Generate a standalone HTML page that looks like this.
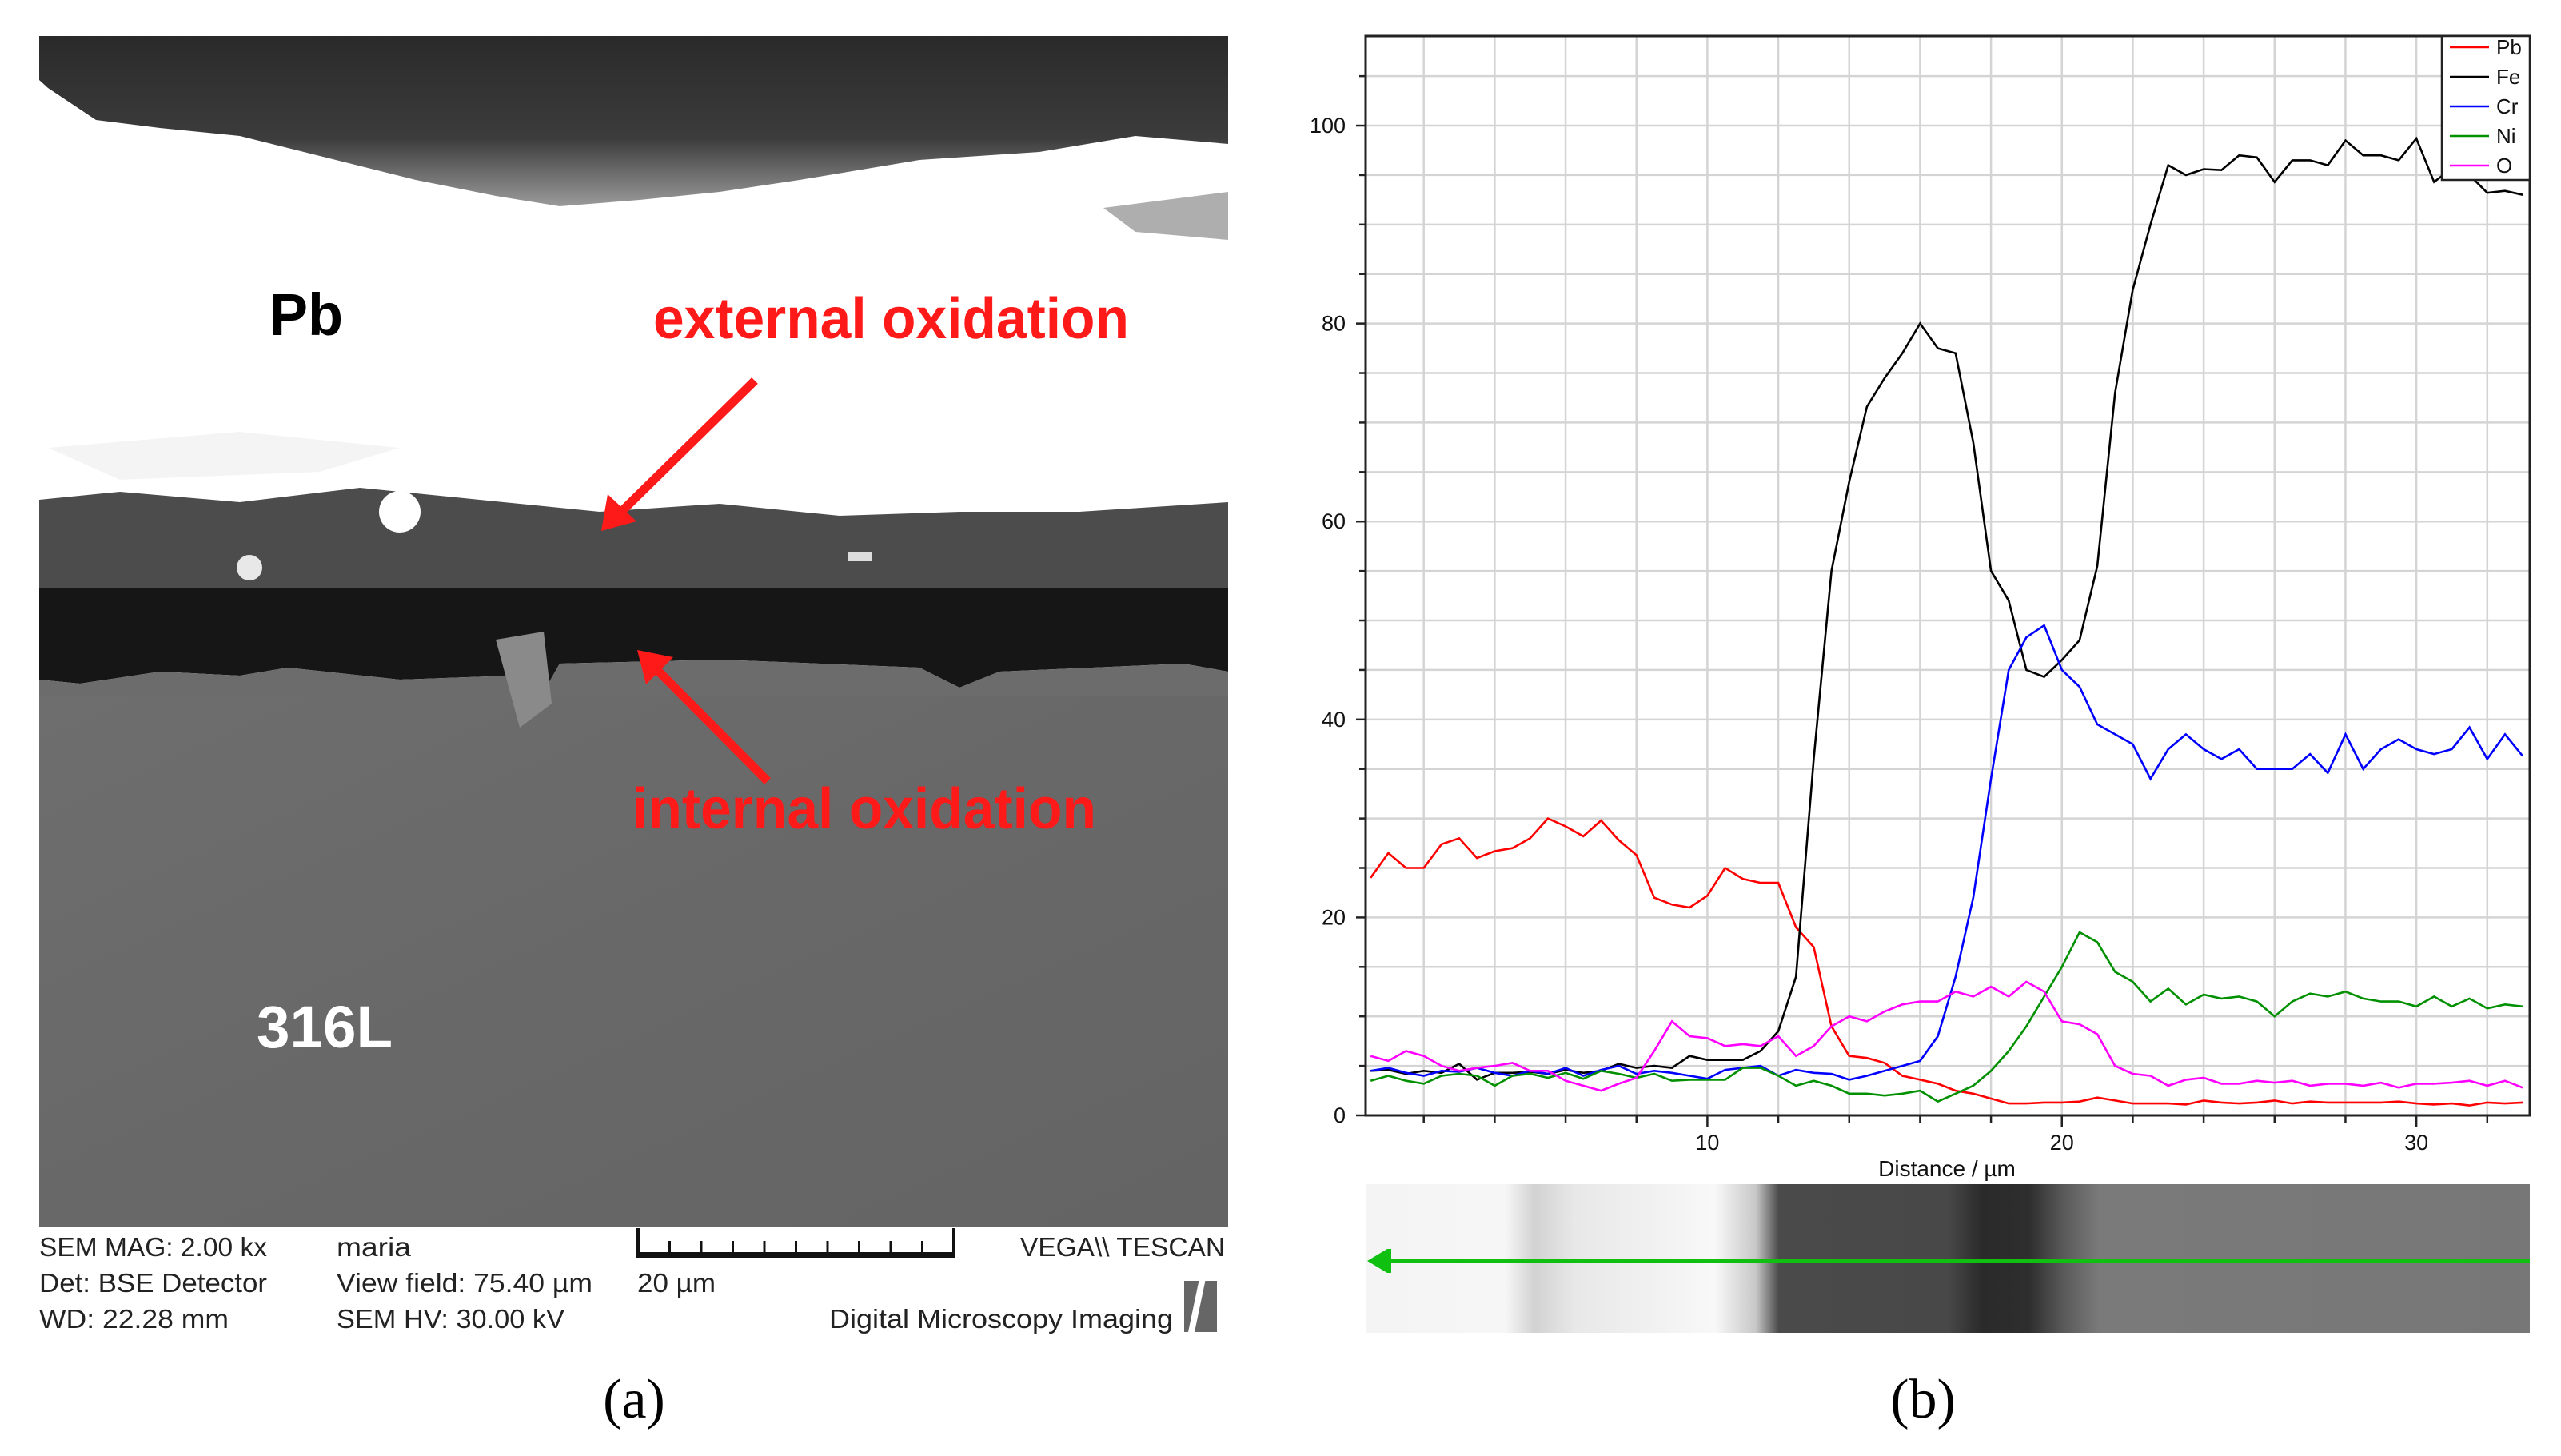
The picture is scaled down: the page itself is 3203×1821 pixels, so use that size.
<!DOCTYPE html>
<html><head><meta charset="utf-8">
<style>
html,body{margin:0;padding:0;background:#fff;}
svg{display:block;}
text{font-family:"Liberation Sans",sans-serif;}
text.serif{font-family:"Liberation Serif",serif;}
</style></head>
<body>
<svg id="fig" width="3203" height="1821" viewBox="0 0 3203 1821" xmlns="http://www.w3.org/2000/svg">
<defs>
<linearGradient id="stripG" x1="0" x2="1" y1="0" y2="0">
<stop offset="0" stop-color="#f4f4f4"/>
<stop offset="0.12" stop-color="#f6f6f6"/>
<stop offset="0.145" stop-color="#d2d2d2"/>
<stop offset="0.18" stop-color="#e8e8e8"/>
<stop offset="0.3" stop-color="#f8f8f8"/>
<stop offset="0.335" stop-color="#c8c8c8"/>
<stop offset="0.355" stop-color="#4a4a4a"/>
<stop offset="0.5" stop-color="#484848"/>
<stop offset="0.53" stop-color="#2a2a2a"/>
<stop offset="0.57" stop-color="#2e2e2e"/>
<stop offset="0.6" stop-color="#5a5a5a"/>
<stop offset="0.63" stop-color="#7a7a7a"/>
<stop offset="1" stop-color="#777"/>
</linearGradient>
<linearGradient id="steelG" x1="0" x2="1" y1="0" y2="1">
<stop offset="0" stop-color="#6e6e6e"/>
<stop offset="0.5" stop-color="#686868"/>
<stop offset="1" stop-color="#646464"/>
</linearGradient>
<linearGradient id="topG" x1="0" x2="0" y1="0" y2="1">
<stop offset="0" stop-color="#2a2a2a"/>
<stop offset="0.6" stop-color="#3c3c3c"/>
<stop offset="1" stop-color="#9a9a9a"/>
</linearGradient>
</defs>

<g>
<rect x="49" y="45" width="1487" height="1489" fill="#ffffff"/>
<path d="M49,45 L1536,45 L1536,180 L1420,170 L1300,190 L1150,200 L1000,225 L900,240 L800,250 L700,258 L620,245 L520,225 L420,200 L300,170 L200,160 L120,150 L60,110 L49,100 Z" fill="url(#topG)"/>
<path d="M1380,260 L1536,240 L1536,300 L1420,290 Z" fill="#9a9a9a" opacity="0.8"/>
<path d="M60,560 L300,540 L500,560 L400,590 L150,600 Z" fill="#e4e4e4" opacity="0.4"/>
<path d="M49,625 L150,615 L300,628 L450,610 L600,625 L750,640 L900,630 L1050,645 L1200,640 L1350,640 L1536,628 L1536,760 L49,760 Z" fill="#4c4c4c"/>
<circle cx="500" cy="640" r="26" fill="#ffffff"/>
<circle cx="312" cy="710" r="16" fill="#e8e8e8"/>
<rect x="1060" y="690" width="30" height="12" fill="#ddd"/>
<path d="M49,735 L1536,735 L1536,840 L1480,830 L1250,840 L1200,860 L1150,835 L900,825 L700,830 L660,900 L640,845 L500,850 L360,835 L300,845 L200,840 L100,855 L49,850 Z" fill="#161616"/>
<rect x="49" y="860" width="1487" height="674" fill="url(#steelG)"/>
<path d="M49,850 L100,855 L200,840 L300,845 L360,835 L500,850 L640,845 L660,900 L700,830 L900,825 L1150,835 L1200,860 L1250,840 L1480,830 L1536,840 L1536,870 L49,870 Z" fill="#6c6c6c"/>
<path d="M620,800 L680,790 L690,880 L650,910 Z" fill="#8a8a8a"/>
</g>
<text x="337" y="419" font-size="74" font-weight="bold" fill="#000" textLength="92" lengthAdjust="spacingAndGlyphs">Pb</text>
<text x="817" y="423" font-size="72" font-weight="bold" fill="#ff1a1a" textLength="595" lengthAdjust="spacingAndGlyphs">external oxidation</text>
<text x="791" y="1036" font-size="72" font-weight="bold" fill="#ff1a1a" textLength="580" lengthAdjust="spacingAndGlyphs">internal oxidation</text>
<text x="321" y="1310" font-size="74" font-weight="bold" fill="#fff" textLength="170" lengthAdjust="spacingAndGlyphs">316L</text>
<g stroke="#ff1a1a" fill="#ff1a1a">
<line x1="944" y1="476" x2="775" y2="642" stroke-width="11"/>
<polygon points="752,664 760,618 796,652" stroke="none"/>
</g>
<g stroke="#ff1a1a" fill="#ff1a1a">
<line x1="960" y1="977" x2="820" y2="836" stroke-width="11"/>
<polygon points="797,813 842,822 808,856" stroke="none"/>
</g>

<g font-size="33" fill="#222">
<text x="49" y="1571" textLength="285" lengthAdjust="spacingAndGlyphs">SEM MAG: 2.00 kx</text>
<text x="49" y="1616" textLength="285" lengthAdjust="spacingAndGlyphs">Det: BSE Detector</text>
<text x="49" y="1661" textLength="237" lengthAdjust="spacingAndGlyphs">WD: 22.28 mm</text>
<text x="421" y="1571" textLength="93" lengthAdjust="spacingAndGlyphs">maria</text>
<text x="421" y="1616" textLength="320" lengthAdjust="spacingAndGlyphs">View field: 75.40 µm</text>
<text x="421" y="1661" textLength="285" lengthAdjust="spacingAndGlyphs">SEM HV: 30.00 kV</text>
<text x="797" y="1616" textLength="98" lengthAdjust="spacingAndGlyphs">20 µm</text>
<text x="1532" y="1571" text-anchor="end" textLength="256" lengthAdjust="spacingAndGlyphs">VEGA\\ TESCAN</text>
<text x="1467" y="1661" text-anchor="end" textLength="430" lengthAdjust="spacingAndGlyphs">Digital Microscopy Imaging</text>
</g>
<g stroke="#111" fill="none">
<polyline points="798,1536 798,1571 1193,1571 1193,1536" stroke-width="4"/>
<line x1="798" y1="1569" x2="1193" y2="1569" stroke-width="6"/>
<g id="sbticks" stroke-width="3"></g>
</g>
<g>
<polygon points="1481,1602 1522,1602 1522,1666 1481,1666" fill="#666"/>
<polygon points="1504,1580 1512,1580 1494,1666 1486,1666" fill="#fff"/>
</g>
<text class="serif" style="font-family:'Liberation Serif',serif" x="793" y="1773" text-anchor="middle" font-size="70" fill="#000">(a)</text>
<text class="serif" style="font-family:'Liberation Serif',serif" x="2405" y="1773" text-anchor="middle" font-size="70" fill="#000">(b)</text>

<g id="chart">
<rect x="1708" y="45" width="1456" height="1350" fill="#fff"/>
<g id="grid"></g>
<g id="series"></g>
<rect x="1708" y="45" width="1456" height="1350" fill="none" stroke="#222" stroke-width="3"/>
<g id="axes"></g>
<text x="2435" y="1471" text-anchor="middle" font-size="28" fill="#111">Distance / µm</text>
<g id="legend"></g>
</g>
<g>
<rect x="1708" y="1481" width="1456" height="186" fill="url(#stripG)"/>
<line x1="1730" y1="1577" x2="3164" y2="1577" stroke="#10c010" stroke-width="6"/>
<polygon points="1710,1577 1735,1562 1740,1562 1740,1592 1735,1592" fill="#10c010"/>
</g>
</svg>
<script>
var distances=[0.5,1,1.5,2,2.5,3,3.5,4,4.5,5,5.5,6,6.5,7,7.5,8,8.5,9,9.5,10,10.5,11,11.5,12,12.5,13,13.5,14,14.5,15,15.5,16,16.5,17,17.5,18,18.5,19,19.5,20,20.5,21,21.5,22,22.5,23,23.5,24,24.5,25,25.5,26,26.5,27,27.5,28,28.5,29,29.5,30,30.5,31,31.5,32,32.5,33];
var pbValues=[24,26.5,25,25,27.4,28,26,26.7,27,28,30,29.2,28.2,29.8,27.8,26.3,22,21.3,21,22.2,25,23.9,23.5,23.5,19,17,9,6,5.8,5.3,4,3.6,3.2,2.5,2.2,1.7,1.2,1.2,1.3,1.3,1.4,1.8,1.5,1.2,1.2,1.2,1.1,1.5,1.3,1.2,1.3,1.5,1.2,1.4,1.3,1.3,1.3,1.3,1.4,1.2,1.1,1.2,1.0,1.3,1.2,1.3];
var feValues=[4.5,4.6,4.2,4.5,4.3,5.2,3.6,4.3,4.3,4.4,4.2,4.6,4.3,4.5,5.2,4.8,5.0,4.8,6.0,5.6,5.6,5.6,6.5,8.5,14,36,55,64,71.6,74.5,77,80,77.5,77,68,55,52,45,44.3,46,48,55.5,73,83.4,90,96,95,95.6,95.5,97,96.8,94.3,96.5,96.5,96,98.5,97,97,96.5,98.7,94.3,95.7,95,93.2,93.4,93];
var crValues=[4.5,4.8,4.3,4.0,4.5,4.4,4.8,4.3,4.0,4.5,4.2,4.8,4.0,4.6,5.0,4.2,4.5,4.3,4.0,3.7,4.6,4.8,5.0,4.0,4.6,4.3,4.2,3.6,4.0,4.5,5.0,5.5,8,14,22,34,45,48.3,49.5,45,43.3,39.5,38.5,37.5,34,37,38.5,37,36,37,35,35,35,36.5,34.6,38.5,35,37,38,37,36.5,37,39.2,36,38.5,36.3];
var niValues=[3.5,4.0,3.5,3.2,4.0,4.2,4.0,3.0,4.0,4.2,3.8,4.3,3.7,4.5,4.2,3.8,4.2,3.5,3.6,3.6,3.6,4.8,4.8,4.0,3.0,3.5,3.0,2.2,2.2,2.0,2.2,2.5,1.4,2.2,3.0,4.5,6.5,9,12,15,18.5,17.5,14.5,13.5,11.5,12.8,11.2,12.2,11.8,12,11.5,10,11.5,12.3,12,12.5,11.8,11.5,11.5,11,12,11,11.8,10.8,11.2,11];
var oValues=[6,5.5,6.5,6,5,4.5,4.8,5.0,5.3,4.5,4.5,3.5,3.0,2.5,3.2,3.8,6.5,9.5,8.0,7.8,7.0,7.2,7.0,8.0,6.0,7.0,9.0,10,9.5,10.5,11.2,11.5,11.5,12.5,12,13,12,13.5,12.5,9.5,9.2,8.2,5,4.2,4,3,3.6,3.8,3.2,3.2,3.5,3.3,3.5,3,3.2,3.2,3.0,3.3,2.8,3.2,3.2,3.3,3.5,3,3.5,2.8];
var seriesNames=["Pb","Fe","Cr","Ni","O"];
var seriesColors=["#ff0000","#000000","#0000ff","#009000","#ff00ff"];
var yTickLabels=[0,20,40,60,80,100];
var xTickLabels=[10,20,30];

var NS="http://www.w3.org/2000/svg";
var X0=1708,X1=3164,Y0=45,Y1=1395;
var xMin=0.36,xMax=33.2,yMin=0,yMax=109.05;
function sx(v){return X0+(v-xMin)/(xMax-xMin)*(X1-X0);}
function sy(v){return Y1-(v-yMin)/(yMax-yMin)*(Y1-Y0);}
function mk(tag,attrs,parent){var e=document.createElementNS(NS,tag);for(var k in attrs)e.setAttribute(k,attrs[k]);parent.appendChild(e);return e;}

var grid=document.getElementById('grid');
var axes=document.getElementById('axes');
for(var gx=2;gx<=32;gx+=2){
  var gl=mk('line',{x1:sx(gx),x2:sx(gx),y1:Y0,y2:Y1,stroke:'#d4d4d4','stroke-width':2.5},grid);
  
  
  var tk=mk('line',{x1:sx(gx),x2:sx(gx),y1:Y1,y2:Y1+(gx%10===0?14:9),stroke:'#222','stroke-width':2.5},axes);
  
  
}
for(var gy=5;gy<=105;gy+=5){
  var hl=mk('line',{x1:X0,x2:X1,y1:sy(gy),y2:sy(gy),stroke:'#d4d4d4','stroke-width':2.5},grid);
  
  
}
for(var gy2=0;gy2<=105;gy2+=5){
  var yt=mk('line',{x1:X0-(gy2%20===0?12:8),x2:X0,y1:sy(gy2),y2:sy(gy2),stroke:'#222','stroke-width':2.5},axes);
  
  
}
yTickLabels.forEach(function(v){
  var t=mk('text',{x:X0-25,y:sy(v)+9,'text-anchor':'end','font-size':27,fill:'#111'},axes);
  t.textContent=v;
  
  
});
xTickLabels.forEach(function(v){
  var t=mk('text',{x:sx(v),y:1438,'text-anchor':'middle','font-size':27,fill:'#111'},axes);
  t.textContent=v;
  
  
});

var seriesData=[pbValues,feValues,crValues,niValues,oValues];
var sg=document.getElementById('series');
for(var s=0;s<seriesData.length;s++){
  var pts=[];
  for(var i=0;i<distances.length;i++){pts.push(sx(distances[i]).toFixed(1)+','+sy(seriesData[s][i]).toFixed(1));}
  var pl=mk('polyline',{points:pts.join(' '),fill:'none',stroke:seriesColors[s],'stroke-width':2.6,'stroke-linejoin':'miter'},sg);
  
  
}

var lg=document.getElementById('legend');
var lb=mk('rect',{x:3054,y:45,width:110,height:180,fill:'#fff',stroke:'#222','stroke-width':2.5},lg);


for(var j=0;j<seriesNames.length;j++){
  var yy=59+j*37;
  var ll=mk('line',{x1:3064,x2:3113,y1:yy,y2:yy,stroke:seriesColors[j],'stroke-width':2.6},lg);
  
  
  var lt=mk('text',{x:3122,y:yy+9,'font-size':26,fill:'#111'},lg);
  lt.textContent=seriesNames[j];
  
  
}

var sbt=document.getElementById('sbticks');
for(var k=1;k<10;k++){
  var xx=798+k*39.5;
  var l=mk('line',{x1:xx,x2:xx,y1:1552,y2:1569},sbt);
  
  
}
</script>
</body></html>
